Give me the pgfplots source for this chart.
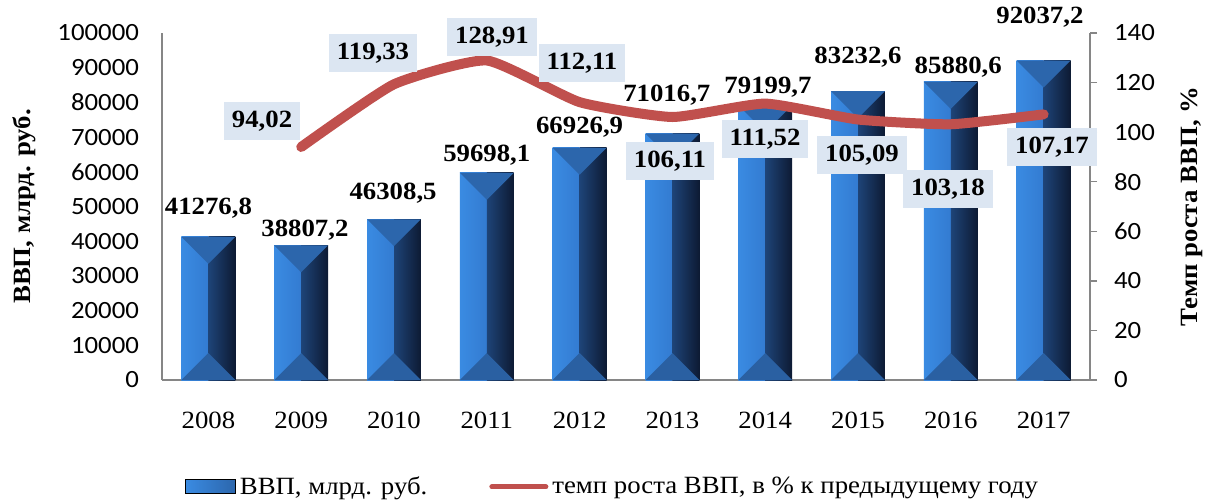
\documentclass[border=0pt]{standalone}
\usepackage{fontspec}
\setmainfont{Liberation Serif}[FakeStretch=1.08]
\newfontfamily\calibri{Carlito}[FakeStretch=1.08]
\usepackage{pgfplots}
\pgfplotsset{compat=1.18}
\usetikzlibrary{calc}
\definecolor{linered}{HTML}{C0504D}
\definecolor{boxfill}{HTML}{DCE6F2}
\definecolor{axgray}{HTML}{868686}
\definecolor{barLa}{HTML}{3A8BE2}
\definecolor{barLm}{HTML}{52A3F1}
\definecolor{barLb}{HTML}{2C6BC0}
\definecolor{barRa}{HTML}{1E4478}
\definecolor{barRb}{HTML}{0D1A33}
\definecolor{bartop}{HTML}{2C66AC}
\definecolor{barbot}{HTML}{2A60A2}
\newcommand{\fs}{\fontsize{12.4}{14}\selectfont}
\tikzset{
  bevelbar/.style={
    fill=bartop, draw=none,
    path picture={
      \shade[path picture={}, draw=none, left color=barLa, middle color=barLm, right color=barLb]
        let \p1=(path picture bounding box.south west), \p2=(path picture bounding box.north east) in
        (\x1,\y1) rectangle ({(\x1+\x2)/2},\y2);
      \shade[path picture={}, draw=none, left color=barRa, right color=barRb]
        let \p1=(path picture bounding box.south west), \p2=(path picture bounding box.north east) in
        ({(\x1+\x2)/2},\y1) rectangle (\x2,\y2);
      \fill[path picture={}, draw=none, bartop]
        let \p1=(path picture bounding box.south west), \p2=(path picture bounding box.north east) in
        (\x1,\y2) -- (\x2,\y2) -- ({(\x1+\x2)/2},{\y2-(\x2-\x1)/2}) -- cycle;
      \fill[path picture={}, draw=none, barbot]
        let \p1=(path picture bounding box.south west), \p2=(path picture bounding box.north east) in
        (\x1,\y1) -- (\x2,\y1) -- ({(\x1+\x2)/2},{\y1+(\x2-\x1)/2}) -- cycle;
    }
  },
  barlab/.style={font=\fs\bfseries, inner sep=0pt},
  linelab/.style={fill=boxfill, font=\fs\bfseries, inner xsep=4pt, inner ysep=0pt, minimum height=19pt}
}
\pgfplotsset{
  base/.style={scale only axis, width=464pt, height=173.5pt, xmin=-0.5, xmax=9.5, clip=false,
    /pgf/number format/assume math mode=true,
    /pgf/number format/fixed, /pgf/number format/1000 sep={}, scaled y ticks=false,
    axis line style={-, axgray, line width=0.75pt}}
}
\begin{document}
\begin{tikzpicture}
\path[use as bounding box] (-81pt,-60pt) rectangle (523pt,190pt);
\begin{axis}[base, ymin=0, ymax=100000, ytick={0,10000,...,100000},
  axis y line*=left, axis x line*=bottom, major tick length=0pt,
  xtick={0,...,9}, xticklabels={2008,2009,2010,2011,2012,2013,2014,2015,2016,2017},
  yticklabel style={font=\calibri\fs, xshift=-8pt},
  xticklabel style={font=\fs, yshift=-12.5pt},
  ylabel={ВВП, млрд. руб.},
  every axis y label/.style={at={(axis description cs:-0.1487,0.5)}, anchor=center, rotate=90, font=\fs\bfseries},
  ybar, bar width=0.58, bar shift=0pt]
\addplot[bevelbar] coordinates {(0,41276.8)};
\addplot[bevelbar] coordinates {(1,38807.2)};
\addplot[bevelbar] coordinates {(2,46308.5)};
\addplot[bevelbar] coordinates {(3,59698.1)};
\addplot[bevelbar] coordinates {(4,66926.9)};
\addplot[bevelbar] coordinates {(5,71016.7)};
\addplot[bevelbar] coordinates {(6,79199.7)};
\addplot[bevelbar] coordinates {(7,83232.6)};
\addplot[bevelbar] coordinates {(8,85880.6)};
\addplot[bevelbar] coordinates {(9,92037.2)};
\node[barlab] at (axis cs:0,49568) {41276,8};
\node[barlab] at (axis cs:1.04,43228) {38807,2};
\node[barlab] at (axis cs:1.99,53890) {46308,5};
\node[barlab] at (axis cs:3.0,64842) {59698,1};
\node[barlab] at (axis cs:4.0,72911) {66926,9};
\node[barlab] at (axis cs:4.94,82133) {71016,7};
\node[barlab] at (axis cs:6.03,84438) {79199,7};
\node[barlab] at (axis cs:7.0,93084) {83232,6};
\node[barlab] at (axis cs:8.08,90202) {85880,6};
\node[barlab] at (axis cs:8.96,104611) {92037,2};
\end{axis}
\begin{axis}[base, ymin=0, ymax=140, ytick={0,20,...,140},
  axis y line*=right, axis x line=none,
  ytick style={axgray, line width=0.75pt}, tick align=outside, major tick length=3.5pt,
  yticklabel style={font=\calibri\fs, xshift=5pt},
  ylabel={Темп роста ВВП, \%},
  every axis y label/.style={at={(axis description cs:1.110,0.5)}, anchor=center, rotate=90, font=\fs\bfseries},
  legend columns=2,
  legend style={draw=none, fill=none, at={(0.4865,-0.308)}, anchor=center, font=\fs,
    /tikz/every even column/.append style={column sep=29pt}}]
\addlegendimage{legend image code/.code={\shade[left color=barLa, right color=bartop] (0pt,-3.5pt) rectangle (25pt,3.5pt);}}
\addlegendentry{ВВП, млрд. руб.}
\addplot[linered, line width=5pt, line cap=round, line join=round, smooth, tension=0.3, mark=none,
  legend image code/.code={\draw[linered, line width=2.5pt, line cap=round] (0pt,0pt) -- (27pt,0pt);}]
  coordinates {(1,94.02) (2,119.33) (3,128.91) (4,112.11) (5,106.11) (6,111.52) (7,105.09) (8,103.18) (9,107.17)};
\addlegendentry{темп роста ВВП, в \% к предыдущему году}
\node[linelab] at (axis cs:0.578,104.5) {94,02};
\node[linelab] at (axis cs:1.774,131.9) {119,33};
\node[linelab] at (axis cs:3.056,138.4) {128,91};
\node[linelab] at (axis cs:4.026,127.9) {112,11};
\node[linelab] at (axis cs:4.974,88.4) {106,11};
\node[linelab] at (axis cs:5.998,97.2) {111,52};
\node[linelab] at (axis cs:7.043,90.8) {105,09};
\node[linelab] at (axis cs:7.97,77.1) {103,18};
\node[linelab] at (axis cs:9.09,94.0) {107,17};
\end{axis}
\end{tikzpicture}
\end{document}
